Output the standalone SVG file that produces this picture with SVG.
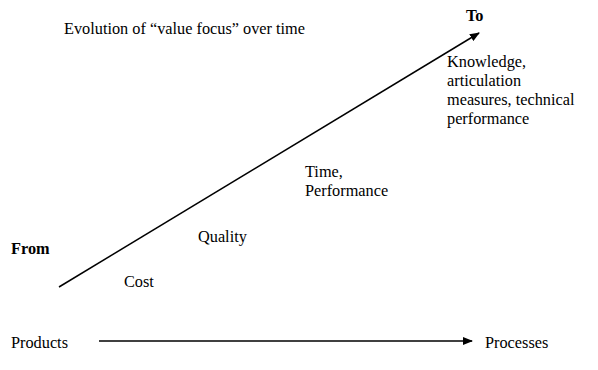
<svg xmlns="http://www.w3.org/2000/svg" width="598" height="370" viewBox="0 0 598 370">
<style>
text{font-family:"Liberation Serif","Times New Roman",serif;font-size:16.3px;fill:#000}
.b{font-weight:bold}
.ln{stroke:#000;stroke-width:1.5;fill:none}
</style>
<defs>
<marker id="ah" markerWidth="10" markerHeight="8" refX="9" refY="4" orient="auto" markerUnits="userSpaceOnUse">
<path d="M0,0 L10,4 L0,8 z" fill="#000"/>
</marker>
</defs>
<rect width="598" height="370" fill="#fff"/>
<g id="connectors">
<line class="ln" x1="59" y1="287" x2="479" y2="33" marker-end="url(#ah)"/>
<line class="ln" x1="99" y1="341" x2="472" y2="341" marker-end="url(#ah)"/>
</g>
<g id="title"><text x="64" y="34">Evolution of “value focus” over time</text></g>
<g id="to"><text class="b" x="466" y="21">To</text></g>
<g id="knowledge"><text x="447" y="67">Knowledge,</text><text x="447" y="86">articulation</text><text x="447" y="105">measures, technical</text><text x="447" y="124">performance</text></g>
<g id="time"><text x="305" y="177">Time,</text><text x="305" y="196">Performance</text></g>
<g id="quality"><text x="198" y="242">Quality</text></g>
<g id="from"><text class="b" x="11" y="254">From</text></g>
<g id="cost"><text x="124" y="287">Cost</text></g>
<g id="products"><text x="11" y="348">Products</text></g>
<g id="processes"><text x="485" y="348">Processes</text></g>
</svg>
